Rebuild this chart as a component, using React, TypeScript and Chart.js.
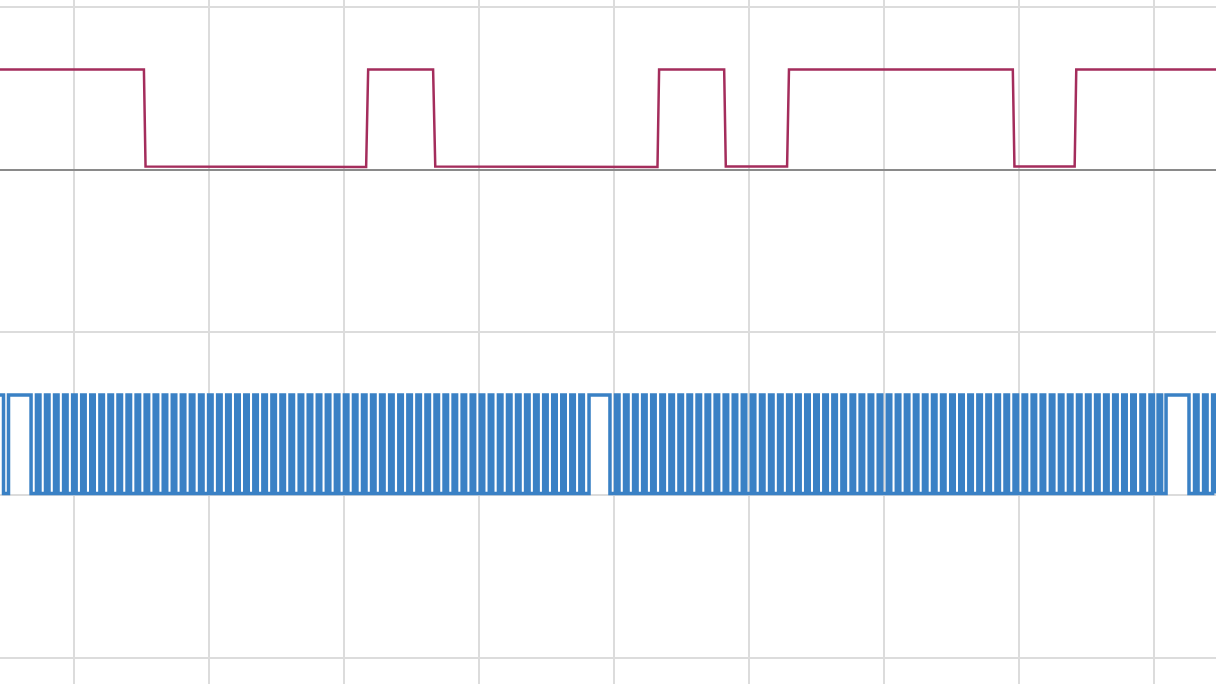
import React, { useEffect, useRef } from 'react';
import { Chart, registerables } from 'chart.js';

Chart.register(...registerables);

// ---- axis ranges / grid ticks (time in ms, signal level in volts-ish units) ----
const X_MIN = 4.52;
const X_MAX = 94.59;
const X_GRID_TICKS = [10, 20, 30, 40, 50, 60, 70, 80, 90];

const BLUE_AXIS_MIN = -1.887;
const BLUE_AXIS_MAX = 4.943;
const BLUE_AXIS_TICKS = [-1.625, 0, 1.625];

const RED_AXIS_MIN = -5.137;
const RED_AXIS_MAX = 1.693;
const RED_AXIS_TICKS = [0, 1.625];

// ---- top (maroon) signal: sample times and levels ----
const maroonTimes = [
  4.40, 15.18, 15.30, 31.64, 31.79, 36.60, 36.76, 53.22, 53.34, 58.16, 58.28,
  62.82, 62.96, 79.54, 79.66, 84.12, 84.24, 94.70,
];
const maroonLevels = [
  1.0, 1.0, 0.03, 0.025, 1.0, 1.0, 0.03, 0.025, 1.0, 1.0, 0.03,
  0.03, 1.0, 1.0, 0.03, 0.03, 1.0, 1.0,
];

// ---- bottom (blue) signal: start level and toggle times ----
const BLUE_HIGH = 1.0;
const BLUE_LOW = 0.015;
const blueStartTime = 4.4;
const blueEndTime = 94.7;
const blueStartLevel = 1;
const blueToggles = [
  4.78, 5.15, 6.82,
  7.22, 7.48, 7.89, 8.15, 8.56, 8.82, 9.23, 9.49, 9.90, 10.16, 10.57, 10.83,
  11.24, 11.50, 11.92, 12.18, 12.59, 12.85, 13.26, 13.52, 13.93, 14.19, 14.60, 14.86,
  15.27, 15.53, 15.94, 16.20, 16.61, 16.87, 17.28, 17.54, 17.95, 18.21, 18.62, 18.88,
  19.30, 19.56, 19.97, 20.23, 20.64, 20.90, 21.31, 21.57, 21.98, 22.24, 22.65, 22.91,
  23.32, 23.58, 23.99, 24.25, 24.66, 24.92, 25.33, 25.59, 26.00, 26.26, 26.68, 26.94,
  27.35, 27.61, 28.02, 28.28, 28.69, 28.95, 29.36, 29.62, 30.03, 30.29, 30.70, 30.96,
  31.37, 31.63, 32.04, 32.30, 32.71, 32.97, 33.38, 33.64, 34.06, 34.32, 34.73, 34.99,
  35.40, 35.66, 36.07, 36.33, 36.74, 37.00, 37.41, 37.67, 38.08, 38.34, 38.75, 39.01,
  39.42, 39.68, 40.09, 40.35, 40.76, 41.02, 41.44, 41.70, 42.11, 42.37, 42.78, 43.04,
  43.45, 43.71, 44.12, 44.38, 44.79, 45.05, 45.46, 45.72, 46.13, 46.39, 46.80, 47.06,
  47.47, 47.73,
  48.15, 49.70,
  50.11, 50.37, 50.78, 51.04, 51.45, 51.71, 52.12, 52.38, 52.79, 53.05, 53.47, 53.73,
  54.14, 54.40, 54.81, 55.07, 55.48, 55.74, 56.15, 56.41, 56.82, 57.08, 57.49, 57.75,
  58.16, 58.42, 58.83, 59.09, 59.50, 59.76, 60.17, 60.43, 60.85, 61.11, 61.52, 61.78,
  62.19, 62.45, 62.86, 63.12, 63.53, 63.79, 64.20, 64.46, 64.87, 65.13, 65.54, 65.80,
  66.21, 66.47, 66.88, 67.14, 67.56, 67.82, 68.23, 68.49, 68.90, 69.16, 69.57, 69.83,
  70.24, 70.50, 70.91, 71.17, 71.58, 71.84, 72.25, 72.51, 72.92, 73.18, 73.59, 73.85,
  74.26, 74.52, 74.94, 75.20, 75.61, 75.87, 76.28, 76.54, 76.95, 77.21, 77.62, 77.88,
  78.29, 78.55, 78.96, 79.22, 79.63, 79.89, 80.30, 80.56, 80.97, 81.23, 81.64, 81.90,
  82.32, 82.58, 82.99, 83.25, 83.66, 83.92, 84.33, 84.59, 85.00, 85.26, 85.67, 85.93,
  86.34, 86.60, 87.01, 87.27, 87.68, 87.94, 88.35, 88.61, 89.03, 89.29, 89.70, 89.96,
  90.30, 90.56,
  90.89, 92.59,
  93.00, 93.26, 93.67, 93.93, 94.34, 94.60,
];

const MAROON = '#A42D5C';
const BLUE = '#3A81C5';
const GRID = '#dcdcdc';
const ZERO_DARK = '#8a8a8a';

export default function App() {
  const canvasRef = useRef<HTMLCanvasElement | null>(null);

  useEffect(() => {
    const canvas = canvasRef.current;
    if (!canvas) return;

    const maroonPoints = maroonTimes.map((t, i) => ({ x: t, y: maroonLevels[i] }));

    const bluePoints: { x: number; y: number }[] = [];
    let lvl = blueStartLevel;
    bluePoints.push({ x: blueStartTime, y: lvl ? BLUE_HIGH : BLUE_LOW });
    for (const t of blueToggles) {
      lvl = 1 - lvl;
      bluePoints.push({ x: t, y: lvl ? BLUE_HIGH : BLUE_LOW });
    }
    bluePoints.push({ x: blueEndTime, y: lvl ? BLUE_HIGH : BLUE_LOW });

    const chart = new Chart(canvas, {
      type: 'line',
      data: {
        datasets: [
          {
            label: 'Channel A',
            data: maroonPoints,
            yAxisID: 'yRed',
            borderColor: MAROON,
            backgroundColor: MAROON,
            borderWidth: 2.5,
            pointRadius: 0,
            tension: 0,
            fill: false,
          },
          {
            label: 'Channel B',
            data: bluePoints,
            yAxisID: 'yBlue',
            borderColor: BLUE,
            backgroundColor: BLUE,
            borderWidth: 3.5,
            pointRadius: 0,
            tension: 0,
            stepped: true,
            fill: false,
          },
        ],
      },
      options: {
        responsive: false,
        animation: false,
        devicePixelRatio: 1,
        layout: { padding: 0 },
        plugins: {
          legend: { display: false },
          tooltip: { enabled: false },
        },
        scales: {
          x: {
            type: 'linear',
            min: X_MIN,
            max: X_MAX,
            afterBuildTicks: (axis: any) => {
              axis.ticks = X_GRID_TICKS.map((v) => ({ value: v }));
            },
            ticks: { display: false },
            border: { display: false },
            grid: { color: GRID, lineWidth: 2, drawTicks: false },
          },
          yBlue: {
            type: 'linear',
            position: 'left',
            min: BLUE_AXIS_MIN,
            max: BLUE_AXIS_MAX,
            afterBuildTicks: (axis: any) => {
              axis.ticks = BLUE_AXIS_TICKS.map((v) => ({ value: v }));
            },
            ticks: { display: false },
            border: { display: false },
            grid: { color: GRID, lineWidth: 2, drawTicks: false },
          },
          yRed: {
            type: 'linear',
            position: 'left',
            min: RED_AXIS_MIN,
            max: RED_AXIS_MAX,
            afterBuildTicks: (axis: any) => {
              axis.ticks = RED_AXIS_TICKS.map((v) => ({ value: v }));
            },
            ticks: { display: false },
            border: { display: false },
            grid: {
              color: (ctx: any) => (ctx.tick && ctx.tick.value === 0 ? ZERO_DARK : GRID),
              lineWidth: 2,
              drawTicks: false,
            },
          },
        },
      },
    });

    return () => {
      chart.destroy();
    };
  }, []);

  return (
    <div
      style={{
        position: 'fixed',
        left: 0,
        top: 0,
        width: 1216,
        height: 684,
        background: '#ffffff',
      }}
    >
      <canvas ref={canvasRef} width={1216} height={684} style={{ display: 'block' }} />
    </div>
  );
}
